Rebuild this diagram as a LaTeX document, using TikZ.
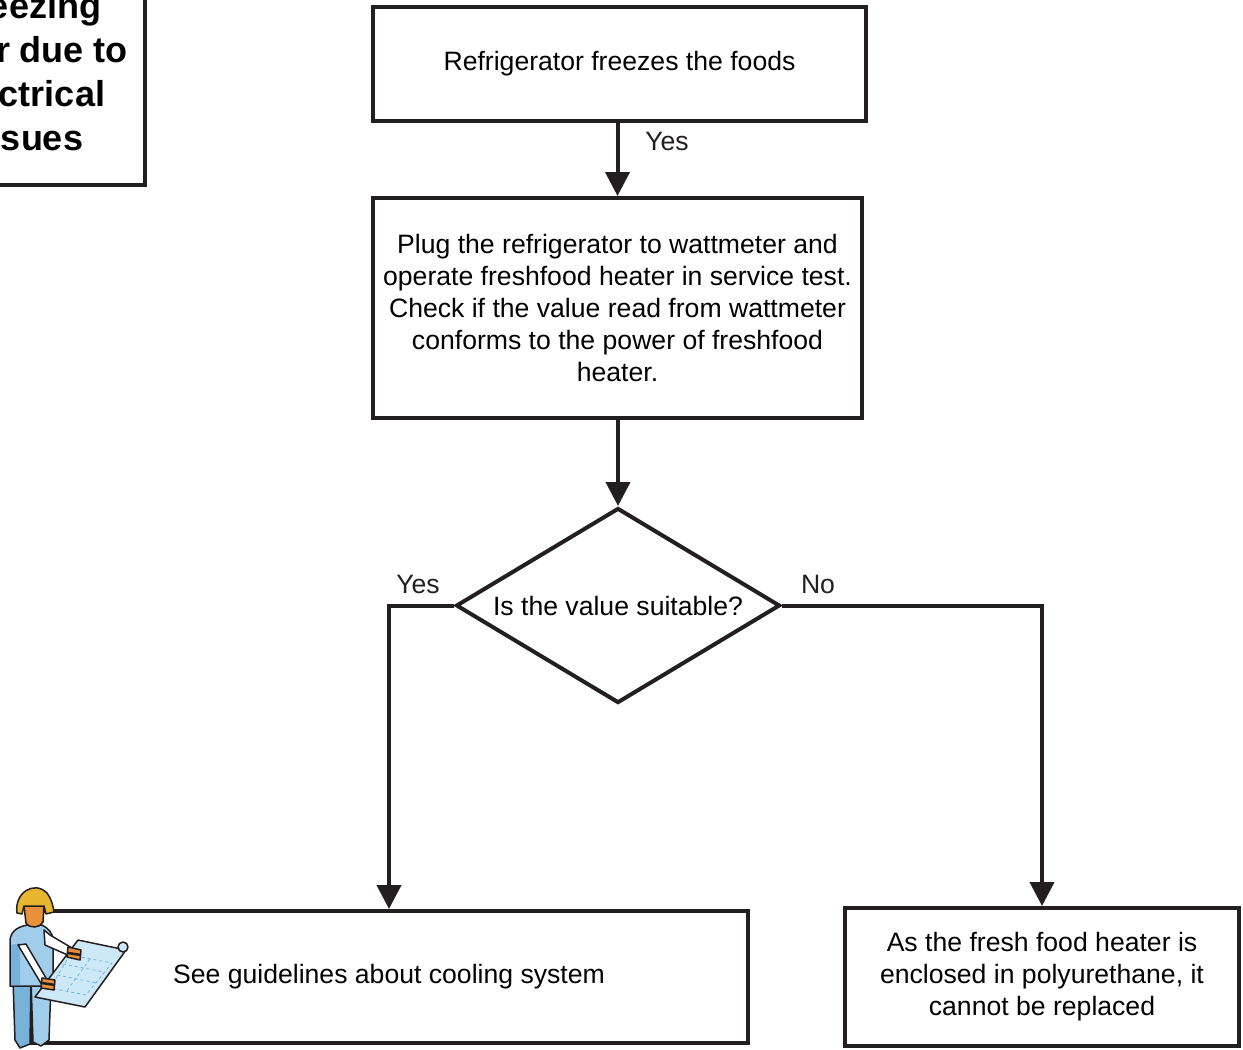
\documentclass[tikz,border=0pt]{standalone}
\usepackage{fontspec}
\setmainfont{Liberation Sans}
\usetikzlibrary{shapes.geometric,arrows.meta}

\definecolor{helmet}{HTML}{E8B52E}
\definecolor{skin}{HTML}{E8913A}
\definecolor{suit}{HTML}{9FCDEA}
\definecolor{suitdark}{HTML}{78B2D8}
\definecolor{paper}{HTML}{CDE9F7}
\definecolor{ink}{HTML}{231F20}

\begin{document}
\begin{tikzpicture}[x=1pt,y=-1pt,
		box/.style={rectangle, draw=ink, line width=4pt, align=center, inner sep=0pt,
			font=\fontsize{26.6}{32}\selectfont},
		decision/.style={diamond, draw=ink, line width=4pt, inner sep=0pt, aspect=1.66,
			font=\fontsize{26.6}{32}\selectfont},
		flow/.style={draw=ink, line width=4pt, -{Triangle[width=24pt,length=24pt]}},
		lbl/.style={font=\fontsize{26.6}{30}\selectfont, text=ink}]
	\useasboundingbox (0,0) rectangle (1243,1050);
	\clip (0,0) rectangle (1243,1050);
	
	% Title box
	\node[box, font=\bfseries\fontsize{36}{44}\selectfont, minimum width=236pt, minimum height=226pt]
		(title) at (27,72) {Freezing\\error due to\\electrical\\issues};
	
	% Steps
	\node[box, minimum width=493pt, minimum height=114pt] (freeze) at (619.5,64) {Refrigerator freezes the foods};
	\node[box, minimum width=489pt, minimum height=220pt] (plug) at (617.5,308)
		{Plug the refrigerator to wattmeter and\\operate freshfood heater in service test.\\Check if the value read from wattmeter\\conforms to the power of freshfood\\heater.};
	\node[decision, minimum width=324pt, minimum height=195pt] (check) at (618,605.5) {Is the value suitable?};
	
	% Results
	\node[box, minimum width=718pt, minimum height=132pt] (guide) at (389,977) {See guidelines about cooling system};
	\node[box, minimum width=394pt, minimum height=138pt] (heater) at (1042,977)
		{As the fresh food heater is\\enclosed in polyurethane, it\\cannot be replaced};
	
	% Connections
	\draw[flow] (plug.north |- freeze.south) -- (plug.north);
	\draw[flow] (plug.south -| check.north) -- (check.north);
	\draw[flow] (check.west) -| (guide.north);
	\draw[flow] (check.east) -| (heater.north);
	
	% Labels
	\node[lbl] (yes1) at (667,141) {Yes};
	\node[lbl] (yes2) at (418,584) {Yes};
	\node[lbl] (no) at (818,584) {No};
	
	% Worker with blueprint
	\begin{scope}[draw=ink, line width=1.5pt, line join=round]
		% legs
		\filldraw[fill=suitdark] (13,980) -- (31,980) -- (30,1044) -- (20,1048) -- (15,1040) -- cycle;
		\filldraw[fill=suit] (31,980) -- (51,983) -- (49,1040) -- (41,1046) -- (33,1042) -- cycle;
		% torso
		\filldraw[fill=suit] (10,940) .. controls (11,930) and (20,926) .. (28,925) -- (42,925)
			.. controls (48,928) and (53,933) .. (53,940) -- (53,986) -- (10,986) -- cycle;
		\fill[suitdark] (11,945) -- (20,943) -- (20,985) -- (11,985) -- cycle;
		% head
		\filldraw[fill=skin] (24,906) -- (44,906) -- (43,922) .. controls (40,928) and (30,929) .. (26,923) -- cycle;
		% helmet
		\filldraw[fill=helmet] (17,913) .. controls (14,893) and (34,880) .. (47,893)
			.. controls (51,898) and (53,905) .. (54,912) -- (46,914) -- (44,906) -- (24,906) -- (22,914) -- cycle;
		% blueprint
		\filldraw[fill=paper] (78,940) -- (126,950) -- (85,1007) -- (35,997) -- cycle;
		\filldraw[fill=paper] (123,947) circle (5);
		\draw[suitdark, line width=0.8pt, dashed] (70,955) -- (112,963) -- (86,995) -- (50,988) -- cycle;
		\draw[suitdark, line width=0.8pt, dashed] (63,964) -- (104,972) (57,975) -- (97,983) (90,959) -- (66,992);
		% arms
		\filldraw[fill=white] (44,930) -- (50,935) -- (72,948) -- (70,956) -- (45,945) -- cycle;
		\filldraw[fill=white] (18,945) -- (26,944) -- (46,978) -- (42,985) -- cycle;
		% hands
		\filldraw[fill=skin] (68,947) -- (81,950) -- (80,960) -- (67,957) -- cycle;
		\filldraw[fill=skin] (42,978) -- (55,980) -- (54,990) -- (41,988) -- cycle;
		\draw[line width=2.5pt] (68,953) -- (81,955) (42,983) -- (55,985);
	\end{scope}
\end{tikzpicture}
\end{document}
